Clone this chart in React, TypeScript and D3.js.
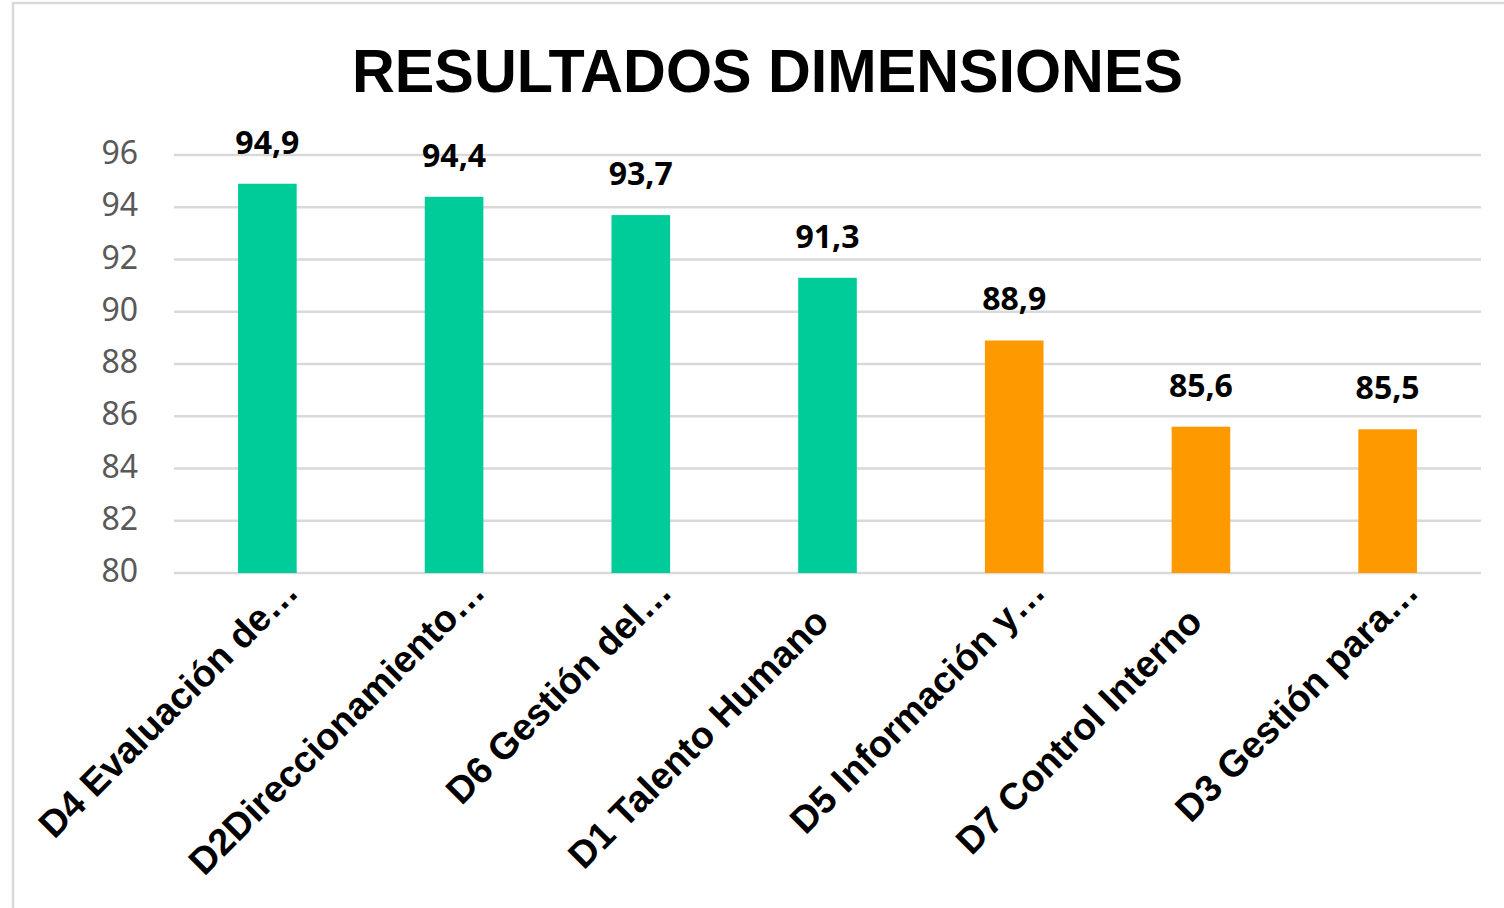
import React from "react";
import * as d3 from "d3";

const categories = [
  "D4 Evaluación de…",
  "D2Direccionamiento…",
  "D6 Gestión del…",
  "D1 Talento Humano",
  "D5 Información y…",
  "D7 Control Interno",
  "D3 Gestión para…",
];
const values = [94.9, 94.4, 93.7, 91.3, 88.9, 85.6, 85.5];
const valueLabels = ["94,9", "94,4", "93,7", "91,3", "88,9", "85,6", "85,5"];
const colorGroups = ["high", "high", "high", "high", "low", "low", "low"];
const yTicks = [80, 82, 84, 86, 88, 90, 92, 94, 96];
const title = "RESULTADOS DIMENSIONES";

const W = 1504;
const H = 908;
const plot = { left: 174, right: 1481, top: 155, bottom: 573 };
const colors: Record<string, string> = { high: "#00CC99", low: "#FF9900" };

export default function App() {
  const x = d3
    .scaleBand<string>()
    .domain(categories)
    .range([plot.left, plot.right])
    .paddingInner(0.686)
    .paddingOuter(0.343);
  const y = d3.scaleLinear().domain([80, 96]).range([plot.bottom, plot.top]);

  return (
    <svg
      width={W}
      height={H}
      style={{ position: "absolute", left: 0, top: 0, display: "block" }}
    >
      <rect x={0} y={0} width={W} height={H} fill="#ffffff" />
      <rect
        x={13}
        y={3}
        width={W}
        height={H}
        fill="none"
        stroke="#d9d9d9"
        strokeWidth={2.5}
      />
      <text
        x={767.5}
        y={92}
        textAnchor="middle"
        fontFamily="'Liberation Sans', Arial, sans-serif"
        fontWeight="bold"
        fontSize={61}
        textLength={831}
        lengthAdjust="spacingAndGlyphs"
        fill="#000"
      >
        {title}
      </text>
      {yTicks.map((t) => (
        <g key={t}>
          <line
            x1={plot.left}
            x2={plot.right}
            y1={y(t)}
            y2={y(t)}
            stroke="#d9d9d9"
            strokeWidth={2.5}
          />
          <text
            x={138}
            y={y(t) + 9}
            textAnchor="end"
            fontFamily="'Noto Sans', sans-serif"
            fontSize={32}
            fill="#595959"
          >
            {t}
          </text>
        </g>
      ))}
      {categories.map((c, i) => {
        const bx = x(c)!;
        const bw = x.bandwidth();
        const cx = bx + bw / 2;
        const top = y(values[i]);
        const truncated = c.endsWith("…");
        const ax = cx + 33;
        const ay = plot.bottom + 21;
        return (
          <g key={c}>
            <rect
              x={bx}
              y={top}
              width={bw}
              height={y(80) - top}
              fill={colors[colorGroups[i]]}
            />
            <text
              x={cx}
              y={top - 30}
              textAnchor="middle"
              fontFamily="'Noto Sans', sans-serif"
              fontWeight="bold"
              fontSize={32}
              fill="#000"
            >
              {valueLabels[i]}
            </text>
            <text
              transform={`translate(${ax},${ay}) rotate(-45)`}
              x={truncated ? 0 : -42}
              y={0}
              textAnchor="end"
              fontFamily="'Liberation Sans', Arial, sans-serif"
              fontWeight="bold"
              fontSize={37.5}
              fill="#000"
            >
              {c}
            </text>
          </g>
        );
      })}
    </svg>
  );
}
